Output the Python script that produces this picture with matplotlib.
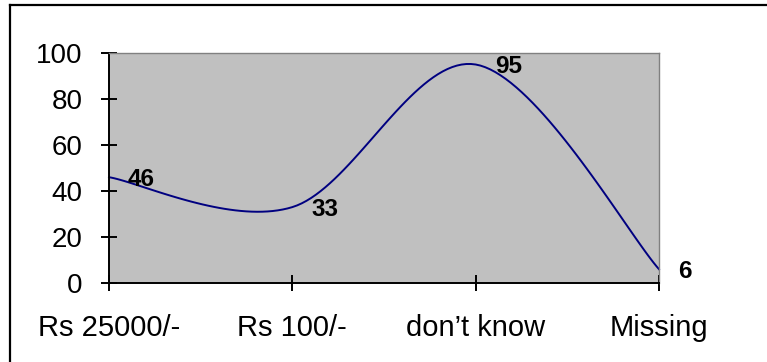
import numpy as np
import matplotlib
matplotlib.use("Agg")
import matplotlib.pyplot as plt
from matplotlib.lines import Line2D

plt.rcParams["font.family"] = ["Liberation Sans", "DejaVu Sans"]

categories = ["Rs 25000/-", "Rs 100/-", "don\u2019t know", "Missing"]
values = [46, 33, 95, 6]
yticks = [0, 20, 40, 60, 80, 100]

PLOT_BG = "#c0c0c0"
LINE = "#000080"
FRAME = "#808080"


def smooth(xs, ys, n=40):
    # Excel-style smoothed line: cubic Bezier through each pair of points,
    # control points taken from the neighbours (Catmull-Rom, tension 1/6)
    p = np.column_stack([xs, ys]).astype(float)
    ext = np.vstack([p[0], p, p[-1]])
    out = []
    t = np.linspace(0, 1, n)[:, None]
    for i in range(len(p) - 1):
        a, b = ext[i + 1], ext[i + 2]
        c1 = a + (b - ext[i]) / 6
        c2 = b - (ext[i + 3] - a) / 6
        seg = ((1 - t) ** 3) * a + 3 * t * (1 - t) ** 2 * c1 \
            + 3 * t ** 2 * (1 - t) * c2 + t ** 3 * b
        out.append(seg if i == 0 else seg[1:])
    out = np.vstack(out)
    return out[:, 0], out[:, 1]


fig = plt.figure(figsize=(7.67, 3.62), dpi=100, facecolor="white")
ax = fig.add_axes([109 / 767, 1 - 283 / 362, 550 / 767, 230 / 362])
ax.set_facecolor(PLOT_BG)

x = np.arange(len(categories))
sx, sy = smooth(x, values)
ax.plot(sx, sy, color=LINE, linewidth=1.4, clip_on=False)

for xi, v in zip(x, values):
    ax.annotate(str(v), (xi, v), textcoords="offset pixels", xytext=(19, -2),
                ha="left", va="center", fontsize=17.5, fontweight="bold",
                color="black", annotation_clip=False)

ax.set_xlim(0, len(categories) - 1)
ax.set_ylim(0, 100)
ax.set_xticks(x)
ax.set_xticklabels(categories)
ax.set_yticks(yticks)

for side in ("top", "right"):
    ax.spines[side].set_color(FRAME)
    ax.spines[side].set_linewidth(1.0)
for side in ("left", "bottom"):
    ax.spines[side].set_color("black")
    ax.spines[side].set_linewidth(1.4)

ax.tick_params(axis="both", direction="inout", length=12, width=1.4,
               colors="black")
ax.tick_params(axis="y", pad=13, labelsize=20)
ax.tick_params(axis="x", pad=16, labelsize=21)

# outer chart border (only left and top edges fall inside the crop)
fig.add_artist(Line2D([10 / 767, 10 / 767], [0, 1 - 5 / 362],
                      color="black", linewidth=1.6))
fig.add_artist(Line2D([10 / 767, 1], [1 - 5 / 362, 1 - 5 / 362],
                      color="black", linewidth=1.6))

fig.savefig("out.png", dpi=100, facecolor="white")
